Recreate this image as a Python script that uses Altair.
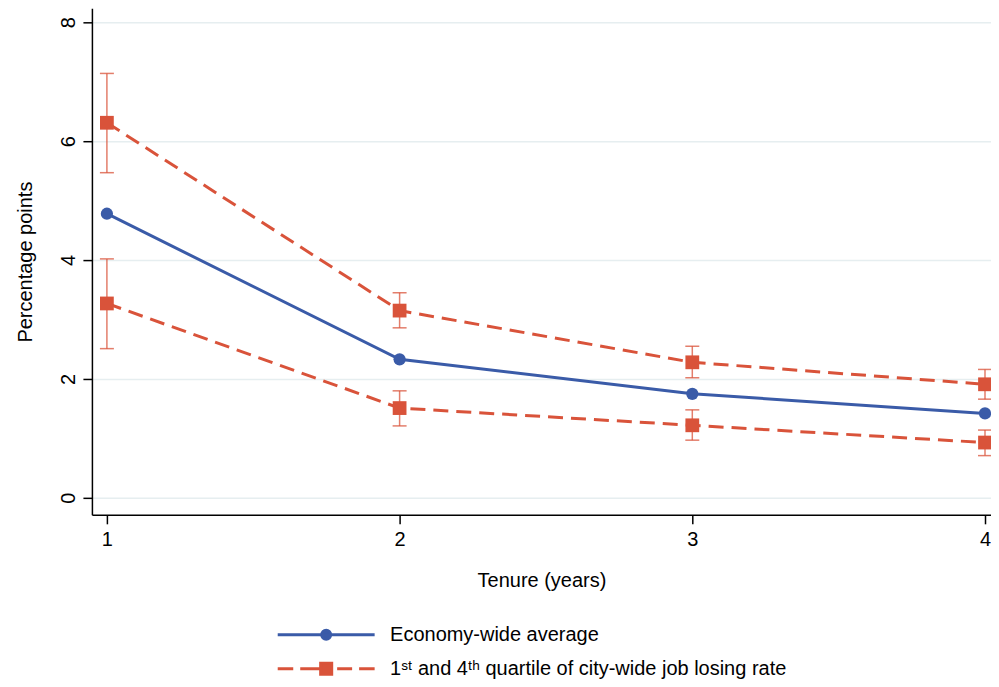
import altair as alt
import pandas as pd

tenure = [1, 2, 3, 4]
econ = [4.78, 2.33, 1.75, 1.42]
q4 = [6.31, 3.15, 2.28, 1.91]
q4_lo = [5.47, 2.86, 2.02, 1.66]
q4_hi = [7.14, 3.45, 2.55, 2.16]
q1 = [3.27, 1.51, 1.22, 0.93]
q1_lo = [2.51, 1.21, 0.97, 0.71]
q1_hi = [4.02, 1.80, 1.48, 1.14]
series_names = ["Economy-wide average",
                "1\u02e2\u1d57 and 4\u1d57\u02b0 quartile of city-wide job losing rate"]
y_ticks = [0, 2, 4, 6, 8]

blue = "#3A5BA8"
red = "#D9533A"
FONT = "Liberation Sans"
FS = 20

rows = []
for i, t in enumerate(tenure):
    rows.append(dict(tenure=t, value=econ[i], lo=None, hi=None, series=series_names[0], group="econ"))
    rows.append(dict(tenure=t, value=q4[i], lo=q4_lo[i], hi=q4_hi[i], series=series_names[1], group="q4"))
    rows.append(dict(tenure=t, value=q1[i], lo=q1_lo[i], hi=q1_hi[i], series=series_names[1], group="q1"))
df = pd.DataFrame(rows)
ec = df[df.group == "econ"]
qt = df[df.group != "econ"]

xscale = alt.Scale(domain=[0.9488, 4.0205], nice=False, zero=False)
yscale = alt.Scale(domain=[-0.286, 8.235], nice=False, zero=False)
xaxis = alt.Axis(values=tenure, format="d", title="Tenure (years)", grid=False,
                 labelPadding=6, titlePadding=21)
yaxis = alt.Axis(values=y_ticks, format="d", title="Percentage points", grid=True,
                 labelAngle=-90, labelAlign="center", labelBaseline="bottom",
                 labelPadding=4, titlePadding=23)

X = alt.X("tenure:Q", scale=xscale, axis=xaxis)
TITLE_Y = "Percentage points"

# legend symbols: a horizontal line with the marker in the middle (units of r = 7px)
econ_path = "M-6.93,0L6.93,0M-0.64,0A0.64,0.64,0,1,0,0.64,0A0.64,0.64,0,1,0,-0.64,0Z"
quart_path = ("M-6.93,0L-4.71,0M-3.71,0L-0.79,0M1.57,0L3.71,0M4.71,0L6.93,0"
              "M-0.79,-0.79L0.79,-0.79L0.79,0.79L-0.79,0.79Z")

legend = alt.Legend(
    orient="none", legendX=183, legendY=617, title=None,
    symbolSize=196, symbolOffset=41.5, labelOffset=54, rowPadding=11,
    labelFont=FONT, labelFontSize=FS, labelColor="black", labelLimit=800,
    padding=0, symbolStrokeWidth=3, symbolOpacity=1,
)

line_ec = alt.Chart(ec).mark_line(strokeWidth=3, color=blue).encode(
    x=X, y=alt.Y("value:Q", scale=yscale, axis=yaxis, title=TITLE_Y))
line_q = alt.Chart(qt).mark_line(strokeWidth=3, color=red, strokeDash=[15, 8]).encode(
    x=X, y=alt.Y("value:Q", scale=yscale, title=TITLE_Y), detail="group:N")

bars = alt.Chart(qt).mark_rule(color=red, strokeWidth=1.5, opacity=0.75).encode(
    x=X, y=alt.Y("lo:Q", scale=yscale, title=TITLE_Y), y2="hi:Q")
cap_lo = alt.Chart(qt).mark_tick(orient="horizontal", size=14, thickness=1.5, color=red, opacity=0.75).encode(
    x=X, y=alt.Y("lo:Q", scale=yscale, title=TITLE_Y))
cap_hi = alt.Chart(qt).mark_tick(orient="horizontal", size=14, thickness=1.5, color=red, opacity=0.75).encode(
    x=X, y=alt.Y("hi:Q", scale=yscale, title=TITLE_Y))

pts_ec = alt.Chart(ec).mark_point(shape="circle", filled=True, size=150, color=blue, opacity=1).encode(
    x=X, y=alt.Y("value:Q", scale=yscale, title=TITLE_Y))
pts_q = alt.Chart(qt).mark_point(shape="square", filled=True, size=190, color=red, opacity=1).encode(
    x=X, y=alt.Y("value:Q", scale=yscale, title=TITLE_Y))

# legend-only layer (no visible marks; entries come from the explicit scale domains)
leg = alt.Chart(df).transform_filter("false").mark_point(
    filled=True, size=196, strokeWidth=3, opacity=1).encode(
    shape=alt.Shape("series:N", scale=alt.Scale(domain=series_names, range=[econ_path, quart_path]), legend=legend),
    color=alt.Color("series:N", scale=alt.Scale(domain=series_names, range=[blue, red]), legend=legend),
    stroke=alt.Stroke("series:N", scale=alt.Scale(domain=series_names, range=[blue, red]), legend=legend),
)

chart = alt.layer(line_ec, line_q, bars, cap_lo, cap_hi, pts_ec, pts_q, leg).properties(
    width=900, height=507,
    padding={"left": 84, "top": 0, "right": 0, "bottom": 164},
    autosize="none",
).configure_view(stroke=None).configure_axis(
    domainColor="black", domainWidth=1.5, tickColor="black", tickWidth=1.5, tickSize=9,
    labelFont=FONT, labelFontSize=FS, labelColor="black",
    titleFont=FONT, titleFontSize=FS, titleFontWeight="normal", titleColor="black",
    gridColor="#E6EEF0", gridWidth=1.5,
)

chart.save("out.html", embed_options={"renderer": "svg", "actions": False})
